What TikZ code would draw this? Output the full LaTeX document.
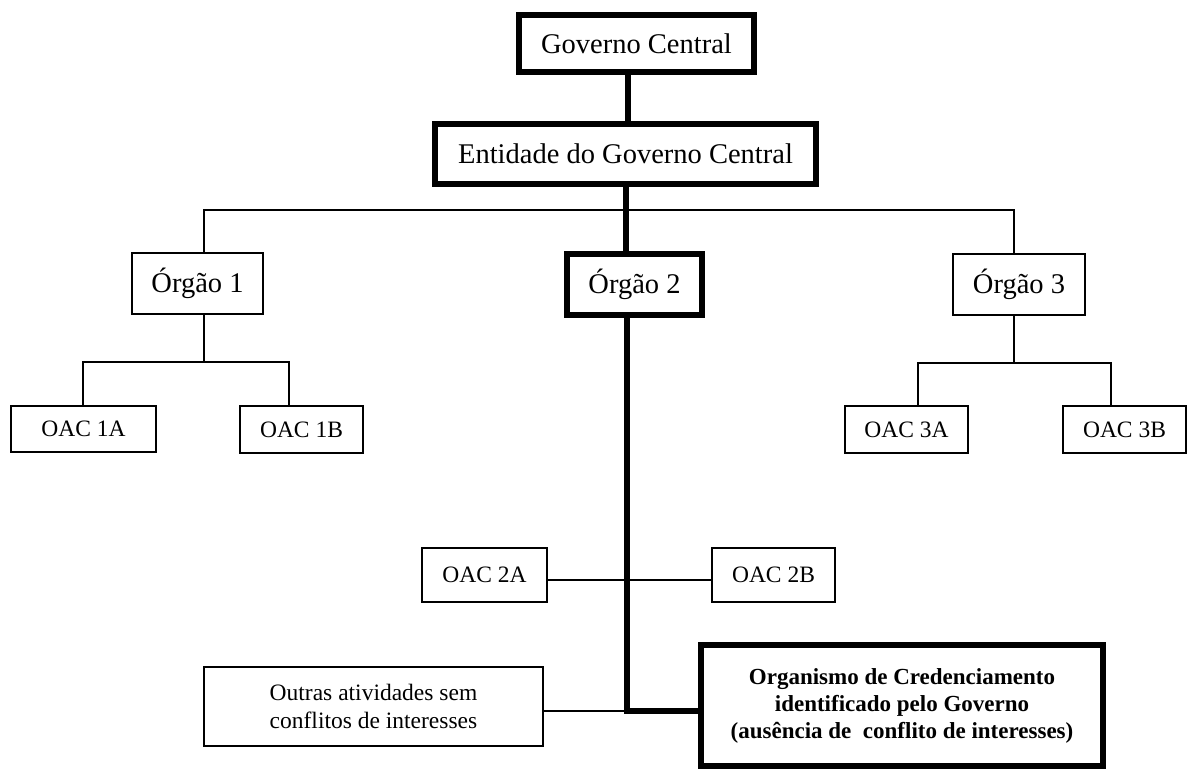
\documentclass[tikz,border=0pt]{standalone}
\usepackage{fontspec}
\setmainfont{Liberation Serif}
\begin{document}
\begin{tikzpicture}[x=1pt,y=-1pt,
  box/.style={draw=black,line width=1.8pt,fill=white,inner sep=0pt,outer sep=0pt,align=center},
  heavybox/.style={box,line width=6pt},
  bigtext/.style={font=\fontsize{28.5}{34}\selectfont},
  smalltext/.style={font=\fontsize{23.5}{28}\selectfont},
  wire/.style={draw=black,line width=1.8pt},
  heavywire/.style={draw=black,line width=6.5pt}]
\useasboundingbox (0,0) rectangle (1190,773);

% reference points of the connectors
\coordinate (xgc) at (628,0);
\coordinate (xent) at (626,0);
\coordinate (bus) at (626,210);
\coordinate (xo1) at (204,0);
\coordinate (xo2) at (627,0);
\coordinate (xo3) at (1014,0);
\coordinate (j1) at (204,362);
\coordinate (j3) at (1014,363);
\coordinate (x1a) at (83,0);
\coordinate (x1b) at (289,0);
\coordinate (x3a) at (918,0);
\coordinate (x3b) at (1111,0);
\coordinate (j4) at (627,580);
\coordinate (j5) at (627,711);

% boxes
\node[heavybox,bigtext,minimum width=235pt,minimum height=57pt] (gc) at (636.5,43.5) {Governo Central};
\node[heavybox,bigtext,minimum width=381pt,minimum height=60pt] (ent) at (625.5,154) {Entidade do Governo Central};
\node[box,bigtext,minimum width=131pt,minimum height=61pt] (o1) at (197.5,283.5) {Órgão 1};
\node[heavybox,bigtext,minimum width=135pt,minimum height=61pt] (o2) at (634.5,284.5) {Órgão 2};
\node[box,bigtext,minimum width=132pt,minimum height=61pt] (o3) at (1019,284.5) {Órgão 3};
\node[box,smalltext,minimum width=145pt,minimum height=46pt] (oac1a) at (83.5,429) {OAC 1A};
\node[box,smalltext,minimum width=123pt,minimum height=47pt] (oac1b) at (301.5,429.5) {OAC 1B};
\node[box,smalltext,minimum width=123pt,minimum height=47pt] (oac3a) at (906.5,429.5) {OAC 3A};
\node[box,smalltext,minimum width=123pt,minimum height=47pt] (oac3b) at (1124.5,429.5) {OAC 3B};
\node[box,smalltext,minimum width=125pt,minimum height=54pt] (oac2a) at (484.5,575) {OAC 2A};
\node[box,smalltext,minimum width=123pt,minimum height=54pt] (oac2b) at (773.5,575) {OAC 2B};
\node[box,smalltext,minimum width=339pt,minimum height=79pt] (outras) at (373.5,706.5) {Outras atividades sem\\conflitos de interesses};
\node[heavybox,font=\fontsize{23}{27}\selectfont\bfseries,minimum width=402pt,minimum height=121pt] (org) at (902,705.5) {Organismo de Credenciamento\\identificado pelo Governo\\(ausência de\ \ conflito de interesses)};

% thin connectors
\draw[wire] (o1.north -| xo1) |- (bus) -| (o3.north -| xo3);
\draw[wire] (o1.south -| xo1) -- (j1);
\draw[wire] (oac1a.north -| x1a) |- (j1) -| (oac1b.north -| x1b);
\draw[wire] (o3.south -| xo3) -- (j3);
\draw[wire] (oac3a.north -| x3a) |- (j3) -| (oac3b.north -| x3b);
\draw[wire] (oac2a.east |- j4) -- (oac2b.west |- j4);
\draw[wire] (outras.east |- j5) -- (j5);

% heavy connectors
\draw[heavywire] (gc.south -| xgc) -- (ent.north -| xgc);
\draw[heavywire] (ent.south -| xent) -- (o2.north -| xent);
\draw[heavywire,line join=miter] (o2.south -| xo2) -- (j5) -- (org.west |- j5);
\end{tikzpicture}
\end{document}
